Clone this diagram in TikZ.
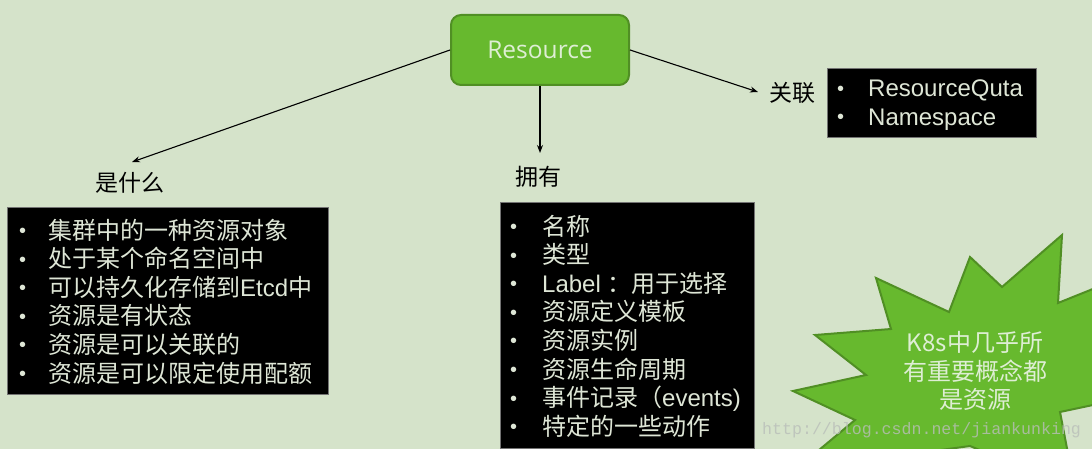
\documentclass[tikz,border=0pt]{standalone}
\usepackage{fontspec}
\setmainfont{Liberation Sans}
\newfontfamily\cjk{Noto Sans CJK SC}
\newfontfamily\uifont{Open Sans}
\newfontfamily\wmfont{Liberation Mono}
\usetikzlibrary{arrows.meta}
\definecolor{bg}{RGB}{213,227,202}
\definecolor{leaf}{RGB}{103,185,46}
\definecolor{leafdark}{RGB}{80,143,36}
\definecolor{pale}{RGB}{222,238,212}
\definecolor{boxtext}{RGB}{222,230,214}
\definecolor{wmgray}{RGB}{185,190,185}
\newcommand\bul[1][30pt]{\makebox[#1][l]{\hspace{1pt}\raisebox{1.5pt}{\fontsize{20}{20}\selectfont\textbullet}}}
\begin{document}
\begin{tikzpicture}[x=1pt,y=-1pt,
  conn/.style={draw=black, line width=1.1pt, -{Stealth[length=8pt,width=6pt]}},
  listbox/.style={fill=black, draw=black!55, line width=0.6pt, inner sep=0pt, anchor=north west},
  listtext/.style={text=boxtext, align=left, anchor=west, inner sep=0pt, font=\fontsize{24}{28.6}\selectfont},
  lbl/.style={font=\cjk\fontsize{23}{28}\selectfont, text=black, inner sep=0pt}]
\fill[bg] (0,0) rectangle (1092,449);
\useasboundingbox (0,0) rectangle (1092,449);
% starburst
\begin{scope}
\clip (0,0) rectangle (1092,449);
\filldraw[fill=leaf, draw=leafdark, line width=2pt, line join=miter]
  (793,391) -- (855,420) -- (795,470) -- (970,446) -- (1075,490) -- (1060,412)
  -- (1140,395) -- (1110,340) -- (1140,270) -- (1058,303) -- (1062,235)
  -- (1002,287) -- (970,257) -- (949,312) -- (876,278) -- (891,329)
  -- (815,335) -- (866,375) -- cycle;
\end{scope}
\node[font=\cjk\fontsize{24}{28.5}\selectfont, text=pale, align=center, inner sep=0pt] (burst) at (975,371) {K8s中几乎所\\有重要概念都\\是资源};
% root
\node[fill=leaf, draw=leafdark, line width=2pt, rounded corners=10pt, minimum width=178pt, minimum height=70pt, text=pale, font=\uifont\fontsize{24.5}{28}\selectfont] (res) at (540,50) {Resource};
% labels
\node[lbl] (what) at (130,183) {是什么};
\node[lbl] (have) at (538,177) {拥有};
\node[lbl] (rel) at (792,93) {关联};
\coordinate (whatTip) at (132,162);
\coordinate (haveTip) at (540,153);
\coordinate (relTip) at (758,92);
\draw[conn] (res.west) -- (whatTip);
\draw[conn] (res.south) -- (haveTip);
\draw[conn] (res.east) -- (relTip);
% boxes
\node[listbox, minimum width=321pt, minimum height=187pt] (whatbox) at (7,207) {};
\node[listtext] (whatlist) at (18,301.5) {%
\bul{\cjk 集群中的一种资源对象}\\
\bul{\cjk 处于某个命名空间中}\\
\bul{\cjk 可以持久化存储到}Etcd{\cjk 中}\\
\bul{\cjk 资源是有状态}\\
\bul{\cjk 资源是可以关联的}\\
\bul{\cjk 资源是可以限定使用配额}};
\node[listbox, minimum width=254pt, minimum height=246pt] (havebox) at (500,202) {};
\node[listtext] (havelist) at (509,326) {%
\bul[33pt]{\cjk 名称}\\
\bul[33pt]{\cjk 类型}\\
\bul[33pt]Label {\cjk ：用于选择}\\
\bul[33pt]{\cjk 资源定义模板}\\
\bul[33pt]{\cjk 资源实例}\\
\bul[33pt]{\cjk 资源生命周期}\\
\bul[33pt]{\cjk 事件记录（}events)\\
\bul[33pt]{\cjk 特定的一些动作}};
\node[listbox, minimum width=209pt, minimum height=69pt] (relbox) at (827,68) {};
\node[listtext] (rellist) at (836,105) {%
\bul[32pt]ResourceQuta\\
\bul[32pt]Namespace};
% watermark
\node[font=\wmfont\fontsize{16.6}{20}\selectfont, text=wmgray, text opacity=0.8, anchor=west, inner sep=0pt] (wm) at (762,430) {http://blog.csdn.net/jiankunking};
\end{tikzpicture}
\end{document}
